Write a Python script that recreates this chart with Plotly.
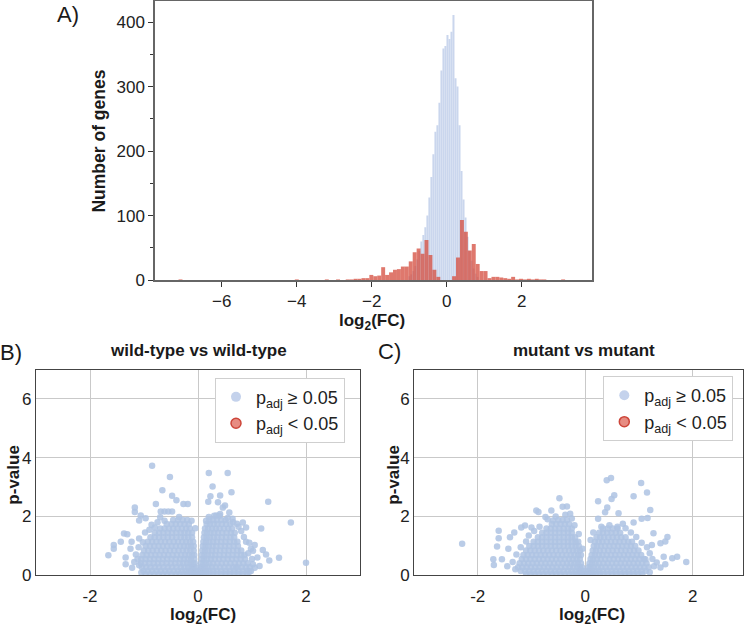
import plotly.graph_objects as go

# ---------------- Panel A: histogram of log2(FC) ----------------
blue_w = 0.0535
blue_centers = [-0.999, -0.946, -0.893, -0.839, -0.786, -0.732, -0.679, -0.625, -0.572, -0.518,
                -0.465, -0.411, -0.358, -0.304, -0.251, -0.197, -0.144, -0.090, -0.037, 0.017,
                0.070, 0.124, 0.177, 0.231, 0.284, 0.338, 0.391, 0.445, 0.498, 0.552,
                0.605, 0.659, 0.712, 0.766, 0.819]
blue_counts = [6, 9, 14, 22, 32, 45, 60, 70, 82, 100,
               128, 160, 195, 230, 240, 275, 325, 359, 363, 380,
               374, 385, 411, 313, 300, 240, 169, 125, 97, 67,
               45, 30, 18, 10, 5]

red_w = 0.105
red_centers = [-7.10, -4.00, -3.20, -2.90, -2.6425, -2.5375, -2.4325, -2.3275, -2.2225, -2.1175,
               -2.0125, -1.9075, -1.8025, -1.6975, -1.5925, -1.4875, -1.3825, -1.2775, -1.1725,
               -1.0675, -0.9625, -0.8575, -0.7525, -0.6475, -0.5425, -0.4375, -0.3325, -0.2275,
               0.1925, 0.2975, 0.4025, 0.5075, 0.6125, 0.7175, 0.8225, 0.9275, 1.0325, 1.1375,
               1.2425, 1.3475, 1.4525, 1.5575, 1.6625, 1.7675, 1.8725, 1.9775, 2.0825, 2.1875,
               2.2925, 2.3975, 2.50, 2.60, 3.10]
red_counts = [1, 1, 1, 1, 1, 1, 2, 2, 3, 3,
              8, 6, 7, 20, 8, 12, 16, 17, 21,
              21, 29, 43, 49, 41, 62, 39, 16, 5,
              6, 35, 93, 75, 46, 56, 25, 14, 14, 3,
              5, 5, 4, 3, 2, 5, 1, 2, 1, 2,
              1, 2, 1, 1, 1]

# ---------------- Panel B: wild-type vs wild-type ----------------
wt_rows = [
    (0.03, [-0.97, -0.89, -0.81, -0.73, -0.65, -0.57, -0.49, -0.41, -0.34, -0.27, -0.21, -0.15, -0.10, -0.06, -0.03, -0.01,
            0.01, 0.03, 0.06, 0.10, 0.15, 0.21, 0.28, 0.35, 0.43, 0.51, 0.59, 0.67, 0.75, 0.83, 0.91]),
    (0.14, [-1.01, -0.93, -0.85, -0.77, -0.69, -0.61, -0.53, -0.45, -0.37, -0.30, -0.23, -0.17, -0.12, -0.07, -0.04,
            0.03, 0.06, 0.10, 0.15, 0.21, 0.28, 0.35, 0.43, 0.51, 0.59, 0.67, 0.75, 0.83, 0.91, 0.98]),
    (0.27, [-1.04, -0.96, -0.88, -0.80, -0.72, -0.64, -0.56, -0.48, -0.40, -0.32, -0.25, -0.18, -0.12, -0.08, -0.05,
            0.05, 0.08, 0.13, 0.19, 0.26, 0.33, 0.41, 0.49, 0.57, 0.65, 0.73, 0.81, 0.89, 0.96]),
    (0.41, [-1.06, -0.98, -0.90, -0.82, -0.74, -0.66, -0.58, -0.50, -0.42, -0.34, -0.27, -0.20, -0.14, -0.09, -0.06,
            0.06, 0.10, 0.15, 0.21, 0.28, 0.36, 0.44, 0.52, 0.60, 0.68, 0.76, 0.84, 0.92]),
    (0.55, [-1.05, -0.97, -0.89, -0.81, -0.73, -0.65, -0.57, -0.49, -0.41, -0.33, -0.26, -0.19, -0.13, -0.07,
            0.07, 0.11, 0.17, 0.24, 0.31, 0.39, 0.47, 0.55, 0.63, 0.71, 0.79, 0.87]),
    (0.69, [-1.03, -0.95, -0.87, -0.79, -0.71, -0.63, -0.55, -0.47, -0.39, -0.31, -0.24, -0.17, -0.11, -0.07,
            0.07, 0.12, 0.18, 0.25, 0.32, 0.40, 0.48, 0.56, 0.64, 0.72, 0.80, 0.86]),
    (0.84, [-1.00, -0.92, -0.84, -0.76, -0.68, -0.60, -0.52, -0.44, -0.36, -0.28, -0.21, -0.14, -0.08,
            0.08, 0.13, 0.19, 0.26, 0.33, 0.41, 0.49, 0.57, 0.65, 0.73, 0.80]),
    (0.99, [-0.97, -0.89, -0.81, -0.73, -0.65, -0.57, -0.49, -0.41, -0.33, -0.26, -0.19, -0.13, -0.08,
            0.09, 0.14, 0.20, 0.27, 0.34, 0.42, 0.50, 0.58, 0.66, 0.74]),
    (1.14, [-0.93, -0.85, -0.77, -0.69, -0.61, -0.53, -0.45, -0.37, -0.29, -0.22, -0.15, -0.09,
            0.10, 0.15, 0.21, 0.28, 0.35, 0.43, 0.51, 0.59, 0.67, 0.73]),
    (1.29, [-0.88, -0.80, -0.72, -0.64, -0.56, -0.48, -0.40, -0.32, -0.25, -0.18, -0.11,
            0.11, 0.16, 0.22, 0.29, 0.36, 0.44, 0.52, 0.60, 0.67]),
    (1.44, [-0.80, -0.72, -0.64, -0.56, -0.48, -0.40, -0.32, -0.25, -0.18, -0.11,
            0.12, 0.17, 0.23, 0.30, 0.37, 0.45, 0.53, 0.61, 0.68]),
    (1.59, [-0.70, -0.62, -0.54, -0.46, -0.38, -0.30, -0.22, -0.15,
            0.13, 0.19, 0.26, 0.33, 0.40, 0.48, 0.56, 0.63]),
    (1.74, [-0.58, -0.49, -0.41, -0.33, -0.25, -0.17,
            0.16, 0.22, 0.29, 0.36, 0.44, 0.52, 0.60]),
    (1.88, [-0.46, -0.37, -0.28, -0.20,
            0.21, 0.28, 0.35, 0.43, 0.51]),
    (2.02, [0.30, 0.40]),
]
wt_out_x = [-0.85, -0.52, -0.66, -0.48, -0.40, -0.19, -0.27, -0.78, -0.69, -0.62, -0.55, -0.48,
            -1.17, -1.17, -1.06, -0.97, -1.09, -0.70, -0.86, -1.37, -1.31, -1.43, -1.56, -1.56,
            -1.66, -1.34, -1.25, -1.34, -1.09, -1.15, -1.23, -1.09,
            0.20, 0.55, 0.27, 0.62, 0.23, 0.41, 0.37, 0.19, 0.46, 0.50, 1.30, 0.34, 0.41, 0.64,
            0.58, 0.72, 0.83, 0.89, 1.17, 1.72, 0.89, 1.05, 1.02, 1.20, 1.26, 0.93, 1.32, 1.50,
            2.00, 1.02, 1.14, 0.70,
            -1.12, -1.10, -1.02, -0.98, -0.90, -0.80, -0.75, -0.62, -0.35, -0.12, -0.05, -1.18,
            -1.22, -1.05, 0.95, 0.85, 0.80, 0.75, 0.65, 0.55, 1.00, 1.05, 0.98, 1.10, 0.95, 0.20, 0.15]
wt_out_y = [3.72, 3.34, 2.89, 2.70, 2.55, 2.42, 2.42, 2.42, 2.17, 2.17, 2.17, 2.17,
            2.30, 2.15, 2.03, 1.94, 1.86, 1.97, 1.72, 1.42, 1.39, 1.14, 1.03, 0.90,
            0.68, 0.60, 0.90, 0.37, 0.34, 0.70, 1.14, 1.25,
            3.48, 3.48, 3.02, 2.82, 2.69, 2.71, 2.48, 2.50, 2.30, 2.37, 2.50, 2.03, 2.08, 1.92,
            2.13, 1.75, 1.79, 1.62, 1.59, 1.79, 1.14, 1.03, 0.83, 0.86, 0.70, 0.75, 0.50, 0.59,
            0.42, 0.37, 0.31, 0.26,
            0.55, 0.95, 1.12, 1.45, 1.55, 1.62, 1.80, 1.85, 1.98, 1.85, 1.60, 0.45,
            0.25, 0.08, 1.10, 1.30, 1.50, 1.65, 1.80, 1.95, 0.55, 0.25, 0.90, 0.60, 0.12, 1.98, 1.85]

# ---------------- Panel C: mutant vs mutant ----------------
mut_rows = [
    (0.03, [-1.10, -1.02, -0.94, -0.86, -0.78, -0.70, -0.62, -0.54, -0.46, -0.38, -0.30, -0.23, -0.17, -0.11, -0.07, -0.04, -0.02,
            0.02, 0.05, 0.09, 0.14, 0.20, 0.27, 0.34, 0.42, 0.50, 0.58, 0.66, 0.74, 0.82, 0.90, 0.98, 1.06]),
    (0.14, [-1.20, -1.12, -1.04, -0.96, -0.88, -0.80, -0.72, -0.64, -0.56, -0.48, -0.40, -0.32, -0.25, -0.18, -0.12, -0.08, -0.04,
            0.04, 0.08, 0.13, 0.19, 0.26, 0.33, 0.41, 0.49, 0.57, 0.65, 0.73, 0.81, 0.89, 0.97, 1.05, 1.13]),
    (0.27, [-1.25, -1.17, -1.09, -1.01, -0.93, -0.85, -0.77, -0.69, -0.61, -0.53, -0.45, -0.37, -0.29, -0.22, -0.15, -0.10, -0.06,
            0.06, 0.10, 0.16, 0.23, 0.30, 0.38, 0.46, 0.54, 0.62, 0.70, 0.78, 0.86, 0.94, 1.02, 1.10, 1.18]),
    (0.41, [-1.22, -1.14, -1.06, -0.98, -0.90, -0.82, -0.74, -0.66, -0.58, -0.50, -0.42, -0.34, -0.27, -0.20, -0.14, -0.08,
            0.08, 0.13, 0.19, 0.26, 0.34, 0.42, 0.50, 0.58, 0.66, 0.74, 0.82, 0.90, 0.98, 1.06, 1.14]),
    (0.55, [-1.18, -1.10, -1.02, -0.94, -0.86, -0.78, -0.70, -0.62, -0.54, -0.46, -0.38, -0.30, -0.23, -0.16, -0.10,
            0.10, 0.15, 0.22, 0.29, 0.37, 0.45, 0.53, 0.61, 0.69, 0.77, 0.85, 0.93, 1.01, 1.09]),
    (0.69, [-1.15, -1.07, -0.99, -0.91, -0.83, -0.75, -0.67, -0.59, -0.51, -0.43, -0.35, -0.27, -0.20, -0.13, -0.08,
            0.12, 0.18, 0.25, 0.32, 0.40, 0.48, 0.56, 0.64, 0.72, 0.80, 0.88, 0.96, 1.04]),
    (0.84, [-1.10, -1.02, -0.94, -0.86, -0.78, -0.70, -0.62, -0.54, -0.46, -0.38, -0.30, -0.23, -0.16, -0.10,
            0.14, 0.20, 0.27, 0.35, 0.43, 0.51, 0.59, 0.67, 0.75, 0.83, 0.91, 0.99]),
    (0.99, [-1.04, -0.96, -0.88, -0.80, -0.72, -0.64, -0.56, -0.48, -0.40, -0.32, -0.25, -0.18, -0.12,
            0.16, 0.22, 0.29, 0.37, 0.45, 0.53, 0.61, 0.69, 0.77, 0.85, 0.93]),
    (1.14, [-0.96, -0.88, -0.80, -0.72, -0.64, -0.56, -0.48, -0.40, -0.32, -0.25, -0.18, -0.13,
            0.18, 0.25, 0.32, 0.40, 0.48, 0.56, 0.64, 0.72, 0.80, 0.87]),
    (1.29, [-0.88, -0.80, -0.72, -0.64, -0.56, -0.48, -0.40, -0.32, -0.25, -0.19,
            0.21, 0.28, 0.35, 0.43, 0.51, 0.59, 0.67, 0.75]),
    (1.44, [-0.80, -0.72, -0.64, -0.56, -0.48, -0.40, -0.32, -0.25,
            0.26, 0.33, 0.41, 0.49, 0.57, 0.65]),
    (1.59, [-0.72, -0.64, -0.56, -0.48, -0.40, -0.32, -0.25,
            0.33, 0.42, 0.51, 0.60]),
    (1.74, [-0.62, -0.54, -0.46, -0.38, -0.30]),
    (1.88, [-0.50, -0.42, -0.34]),
]
mut_out_x = [-2.29, -1.61, -1.61, -1.64, -1.71, -1.70, -1.55, -1.43, -1.32, -1.40, -1.12, -0.91,
             -0.87, -0.74, -0.63, -0.60, -0.48, -0.42, -0.34, -0.37, -0.28, -0.25, -1.00, -1.19,
             0.40, 0.48, 1.04, 1.15, 0.54, 0.49, 0.24, 0.90, 0.41, 0.37, 0.62, 1.21, 1.16, 1.05,
             0.24, 0.90, 1.27, 1.49, 1.40, 1.53, 1.24, 1.46, 1.62, 1.71, 1.88, 1.49, 1.40, 1.33, 1.12,
             -1.30, -1.35, -1.28, -1.20, -1.10, -1.05, -0.95, -0.85, -0.70, -0.55, -0.20, -0.12, -0.05,
             -1.45, 0.10, 0.15, 0.30, 0.45, 0.60, 0.75, 0.85, 0.95, 1.05, 1.15, 1.20, 1.25, 1.28, 1.20, 0.70]
mut_out_y = [1.07, 1.51, 1.26, 0.98, 0.54, 0.35, 0.54, 0.90, 1.45, 1.29, 1.69, 2.20,
             2.15, 1.98, 2.20, 1.86, 2.62, 2.33, 2.34, 2.06, 2.09, 1.93, 1.62, 1.62,
             3.23, 3.31, 3.14, 2.81, 2.72, 2.59, 2.52, 2.69, 2.30, 2.14, 2.11, 2.22, 1.95, 1.92,
             1.92, 1.79, 1.43, 1.15, 1.09, 1.30, 1.03, 0.63, 0.58, 0.63, 0.45, 0.37, 0.26, 0.43, 0.54,
             0.20, 0.45, 0.70, 0.95, 1.15, 1.35, 1.50, 1.65, 1.90, 2.00, 1.70, 1.40, 0.90,
             0.30, 1.20, 1.45, 1.65, 1.70, 1.65, 1.60, 1.45, 1.30, 1.10, 0.95, 0.75, 0.55, 0.30, 0.10, 1.75]


def flatten(rows, ox, oy):
    xs, ys = [], []
    for yv, xrow in rows:
        for xv in xrow:
            xs.append(xv)
            ys.append(yv)
    return xs + ox, ys + oy


wt_x, wt_y = flatten(wt_rows, wt_out_x, wt_out_y)
mut_x, mut_y = flatten(mut_rows, mut_out_x, mut_out_y)

BLUE_PT = "rgb(174,195,227)"
FONT = "Liberation Sans, Arial, sans-serif"
W, H = 747, 635

fig = go.Figure()

fig.add_trace(go.Bar(x=blue_centers, y=blue_counts, width=blue_w,
                     marker=dict(color="rgb(202,214,237)", line=dict(width=0)),
                     xaxis="x", yaxis="y", showlegend=False))
fig.add_trace(go.Bar(x=red_centers, y=red_counts, width=red_w,
                     marker=dict(color="rgba(214,82,68,0.78)", line=dict(width=0)),
                     xaxis="x", yaxis="y", showlegend=False))

for xs, ys, ax, ay in [(wt_x, wt_y, "x2", "y2"), (mut_x, mut_y, "x3", "y3")]:
    fig.add_trace(go.Scatter(x=xs, y=ys, mode="markers", xaxis=ax, yaxis=ay,
                             marker=dict(size=6.5, color=BLUE_PT, opacity=0.85, line=dict(width=0)),
                             showlegend=False))

for ax, ay, lg in [("x2", "y2", "legend"), ("x3", "y3", "legend2")]:
    fig.add_trace(go.Scatter(x=[None], y=[None], mode="markers", xaxis=ax, yaxis=ay,
                             name="p<sub>adj</sub> \u2265 0.05", legend=lg,
                             marker=dict(size=10, color="rgb(196,210,236)", line=dict(width=0))))
    fig.add_trace(go.Scatter(x=[None], y=[None], mode="markers", xaxis=ax, yaxis=ay,
                             name="p<sub>adj</sub> < 0.05", legend=lg,
                             marker=dict(size=10, color="rgba(228,128,116,0.9)",
                                         line=dict(width=1.5, color="rgb(205,70,58)"))))

def px_x(p):
    return p / W

def px_y(p):
    return 1 - p / H

tick_font = dict(family=FONT, size=17, color="#222")

top_x = dict(domain=[px_x(155), px_x(592)], range=[-7.78, 3.87], anchor="y",
             tickvals=[-6, -4, -2, 0, 2], ticktext=["\u22126", "\u22124", "\u22122", "0", "2"],
             ticks="outside", ticklen=5, tickwidth=1.2, tickcolor="#333",
             showline=True, linecolor="#666", linewidth=1.5, mirror=True,
             showgrid=False, zeroline=False, tickfont=tick_font)
top_y = dict(domain=[px_y(284), px_y(0.5)], range=[0, 432], anchor="x",
             tickvals=[0, 100, 200, 300, 400],
             ticks="outside", ticklen=5, tickwidth=1.2, tickcolor="#333",
             minor=dict(tickvals=[50, 150, 250, 350], ticks="outside", ticklen=3, tickwidth=1, tickcolor="#333"),
             showline=True, linecolor="#666", linewidth=1.5, mirror=True,
             showgrid=False, zeroline=False, tickfont=tick_font)

def scatter_axes(x0, x1, xr, anchor_y, anchor_x):
    xa = dict(domain=[px_x(x0), px_x(x1)], range=xr, anchor=anchor_y,
              tickvals=[-2, 0, 2], ticktext=["-2", "0", "2"],
              ticks="outside", ticklen=5, tickcolor="rgba(0,0,0,0)",
              showline=True, linecolor="#444", linewidth=1.3, mirror=True,
              showgrid=True, gridcolor="#c9c9c9", gridwidth=1, zeroline=False,
              tickfont=tick_font)
    ya = dict(domain=[px_y(584.3), px_y(375)], range=[0, 7], anchor=anchor_x,
              tickvals=[0, 2, 4, 6], ticks="",
              showline=True, linecolor="#444", linewidth=1.3, mirror=True,
              showgrid=True, gridcolor="#c9c9c9", gridwidth=1, zeroline=False,
              tickfont=tick_font)
    return xa, ya

x2, y2 = scatter_axes(36, 360, [-3, 3], "y2", "x2")
x3, y3 = scatter_axes(414.3, 742.7, [-3.18, 2.93], "y3", "x3")

legend_common = dict(xanchor="right", yanchor="top", bgcolor="white",
                     bordercolor="#cfcfcf", borderwidth=1,
                     font=dict(family=FONT, size=18, color="#222"),
                     itemwidth=30, tracegroupgap=0)

ann = []
def add_text(text, xp, yp, size, bold=False, angle=0):
    t = f"<b>{text}</b>" if bold else text
    ann.append(dict(text=t, x=px_x(xp), y=px_y(yp), xref="paper", yref="paper",
                    showarrow=False, textangle=angle, xanchor="center", yanchor="middle",
                    font=dict(family=FONT, size=size, color="#1a1a1a")))

add_text("A)", 68, 14, 22)
add_text("B)", 11, 358, 22)
add_text("C)", 389, 357, 22)
add_text("wild-type vs wild-type", 198, 356, 17, bold=True)
add_text("mutant vs mutant", 584, 356, 17, bold=True)
add_text("Number of genes", 99, 143, 17.5, bold=True, angle=-90)
add_text("log<sub>2</sub>(FC)", 372, 327, 17, bold=True)
add_text("log<sub>2</sub>(FC)", 203, 626, 17, bold=True)
add_text("log<sub>2</sub>(FC)", 592, 626, 17, bold=True)
add_text("p-value", 14, 482, 17, bold=True, angle=-90)
add_text("p-value", 394, 482, 17, bold=True, angle=-90)

fig.update_layout(
    width=W, height=H, autosize=False,
    margin=dict(l=0, r=0, t=0, b=0),
    paper_bgcolor="white", plot_bgcolor="white",
    font=dict(family=FONT, color="#222"),
    barmode="overlay",
    xaxis=top_x, yaxis=top_y,
    xaxis2=x2, yaxis2=y2, xaxis3=x3, yaxis3=y3,
    legend=dict(x=px_x(345), y=px_y(383.3), **legend_common),
    legend2=dict(x=px_x(733.3), y=px_y(381.7), **legend_common),
    annotations=ann,
)

fig.write_html("out.html")
